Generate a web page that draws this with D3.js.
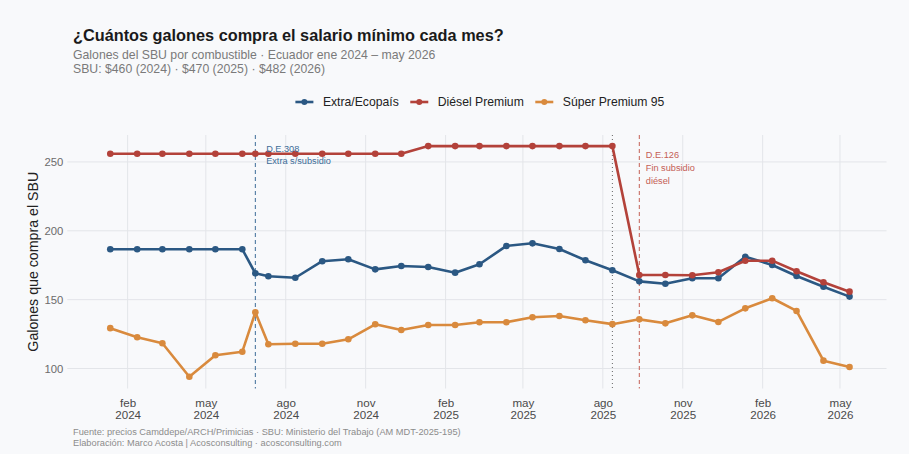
<!DOCTYPE html>
<html><head><meta charset="utf-8">
<script src="https://cdn.jsdelivr.net/npm/d3@7"></script>
<style>
html,body{margin:0;padding:0;background:#f8f9fb;}
svg{display:block;font-family:"Liberation Sans",Arial,sans-serif;}
</style></head><body>
<svg id="c" width="909" height="454"></svg>
<script>
// ---- data ----
const dates = ["2024-01-12","2024-02-12","2024-03-12","2024-04-12","2024-05-12","2024-06-12","2024-06-27",
"2024-07-12","2024-08-12","2024-09-12","2024-10-12","2024-11-12","2024-12-12",
"2025-01-12","2025-02-12","2025-03-12","2025-04-12","2025-05-12","2025-06-12","2025-07-12","2025-08-12",
"2025-09-12","2025-10-12","2025-11-12","2025-12-12",
"2026-01-12","2026-02-12","2026-03-12","2026-04-12","2026-05-12"];
const extra = [186.6,186.6,186.6,186.6,186.6,186.6,169.1,
167.0,165.9,177.9,179.3,172.0,174.4,
173.7,169.6,175.7,189.0,190.9,186.8,178.6,171.4,
163.3,161.6,165.5,165.5,
181.2,175.2,167.2,159.4,152.2];
const diesel = [256,256,256,256,256,256,256,
256,256,256,256,256,256,
261.5,261.5,261.5,261.5,261.5,261.5,261.5,261.5,
167.9,167.9,167.7,169.9,
178.3,178.3,170.6,162.6,155.8];
const super95 = [129.3,122.7,118.3,94.0,109.6,112.2,140.8,
117.6,118.0,118.0,121.2,132.1,128.0,
131.6,131.6,133.6,133.6,137.2,138.1,135.0,132.2,
135.7,132.8,138.6,133.8,
143.7,151.0,141.8,105.7,101.1];
const seriesNames = ["Extra/Ecopaís","Diésel Premium","Súper Premium 95"];
const seriesColors = ["#2b5883","#b3423a","#d98a3d"];
const yTicks = [100,150,200,250];
const xTickDates = ["2024-02-01","2024-05-01","2024-08-01","2024-11-01","2025-02-01","2025-05-01","2025-08-01","2025-11-01","2026-02-01","2026-05-01"];
const monthNames = ["ene","feb","mar","abr","may","jun","jul","ago","sep","oct","nov","dic"];
const events = [
  {date:"2024-06-27", lines:["D.E.308","Extra s/subsidio"], color:"#3d6d98", dash:"4,3"},
  {date:"2025-08-12", lines:[], color:"#666666", dash:"1,3"},
  {date:"2025-09-12", lines:["D.E.126","Fin subsidio","diésel"], color:"#c46055", dash:"4,3"}
];
const title = "¿Cuántos galones compra el salario mínimo cada mes?";
const subtitle = ["Galones del SBU por combustible · Ecuador ene 2024 – may 2026","SBU: $460 (2024) · $470 (2025) · $482 (2026)"];
const caption = ["Fuente: precios Camddepe/ARCH/Primicias · SBU: Ministerio del Trabajo (AM MDT-2025-195)","Elaboración: Marco Acosta | Acosconsulting · acosconsulting.com"];
const yTitle = "Galones que compra el SBU";

// ---- layout ----
const svg = d3.select("#c");
const parse = d3.utcParse("%Y-%m-%d");
const D = dates.map(parse);
const panel = {left:73.3, right:886.5, top:135, bottom:388.5};
const d0 = D[0], d1 = D[D.length-1];
const span = d1 - d0;
const x = d3.scaleUtc().domain([new Date(+d0 - span*0.05), new Date(+d1 + span*0.05)]).range([panel.left, panel.right]);
const y = d3.scaleLinear().domain([100,250]).range([368.5,161.95]);

// grid
const g = svg.append("g");
g.selectAll("line.hy").data(yTicks).join("line")
  .attr("x1",panel.left-6).attr("x2",panel.right).attr("y1",d=>y(d)).attr("y2",d=>y(d))
  .attr("stroke","#e3e5e9").attr("stroke-width",1);
g.selectAll("line.vx").data(xTickDates.map(parse)).join("line")
  .attr("x1",d=>x(d)).attr("x2",d=>x(d)).attr("y1",panel.top).attr("y2",panel.bottom)
  .attr("stroke","#e3e5e9").attr("stroke-width",1);

// y axis labels
const yAxis = d3.axisLeft(y).tickValues(yTicks).tickSize(0).tickPadding(0);
const ya = svg.append("g").attr("transform",`translate(${panel.left-10},0)`).call(yAxis);
ya.select(".domain").remove();
ya.selectAll("text").attr("fill","#6b6b6b").style("font-size","11.3px").style("font-family","'Liberation Sans',Arial,sans-serif");

// x axis labels
const xAxis = d3.axisBottom(x).tickValues(xTickDates.map(parse)).tickSize(0).tickFormat(()=>"");
const xa = svg.append("g").attr("transform",`translate(0,${panel.bottom})`).call(xAxis);
xa.select(".domain").remove();
xa.selectAll(".tick").each(function(d){
  const sel = d3.select(this);
  sel.append("text").attr("fill","#4a4a4a").attr("text-anchor","middle").attr("y",18.5)
    .style("font-size","11.6px").style("font-family","'Liberation Sans',Arial,sans-serif").text(monthNames[d.getUTCMonth()]);
  sel.append("text").attr("fill","#4a4a4a").attr("text-anchor","middle").attr("y",30.3)
    .style("font-size","11.6px").style("font-family","'Liberation Sans',Arial,sans-serif").text(d.getUTCFullYear());
});

// y title
svg.append("text").attr("transform",`translate(38,${(panel.top+panel.bottom)/2}) rotate(-90)`)
  .attr("text-anchor","middle").attr("fill","#222").style("font-size","14.2px").text(yTitle);

// event lines
events.forEach(ev=>{
  const xx = x(parse(ev.date));
  svg.append("line").attr("x1",xx).attr("x2",xx).attr("y1",panel.top).attr("y2",panel.bottom)
    .attr("stroke",ev.color).attr("stroke-width",1).attr("stroke-dasharray",ev.dash);
});

// series
const series = [extra, diesel, super95];
const line = d3.line().x((d,i)=>x(D[i])).y(d=>y(d));
series.forEach((vals,k)=>{
  svg.append("path").datum(vals).attr("d",line).attr("fill","none")
    .attr("stroke",seriesColors[k]).attr("stroke-width",2.6).attr("stroke-linejoin","round");
  svg.append("g").selectAll("circle").data(vals).join("circle")
    .attr("cx",(d,i)=>x(D[i])).attr("cy",d=>y(d)).attr("r",3.3).attr("fill",seriesColors[k]);
});

// event labels (on top)
const evLabelOffsets = [[151.7,12.4,10.8],[0,0,0],[158,13,6.5]];
events.forEach((ev,k)=>{
  if(!ev.lines.length) return;
  const xx = x(parse(ev.date));
  const t = svg.append("text").attr("fill",ev.color).style("font-size","9.2px");
  ev.lines.forEach((s,j)=>t.append("tspan").attr("x",xx+evLabelOffsets[k][2]).attr("y",evLabelOffsets[k][0]+j*evLabelOffsets[k][1]).text(s));
});

// title / subtitle
svg.append("text").attr("x",73).attr("y",40.5).attr("fill","#1a1a1a").style("font-size","16.3px").style("font-weight","bold").text(title);
subtitle.forEach((s,i)=>svg.append("text").attr("x",73).attr("y",59+i*13.7).attr("fill","#7a7a7a").style("font-size","12.25px").text(s));

// legend
const lg = svg.append("g");
let cx = 0;
seriesNames.forEach((n,k)=>{
  const it = lg.append("g");
  it.append("line").attr("x1",0).attr("x2",18).attr("y1",0).attr("y2",0).attr("stroke",seriesColors[k]).attr("stroke-width",2.6);
  it.append("circle").attr("cx",9).attr("cy",0).attr("r",3).attr("fill",seriesColors[k]);
  const tx = it.append("text").attr("x",27.5).attr("y",4.2).attr("fill","#222").style("font-size","12.2px").text(n);
  const w = 27.5 + tx.node().getComputedTextLength();
  it.attr("transform",`translate(${cx},0)`);
  cx += w + 11.5;
});
const lw = cx - 11.5;
lg.attr("transform",`translate(${(panel.left+panel.right)/2 - lw/2},102)`);

// caption
caption.forEach((s,i)=>svg.append("text").attr("x",73).attr("y",435+i*10.8).attr("fill","#8c8c8c").style("font-size","9.25px").text(s));
</script>
</body></html>
